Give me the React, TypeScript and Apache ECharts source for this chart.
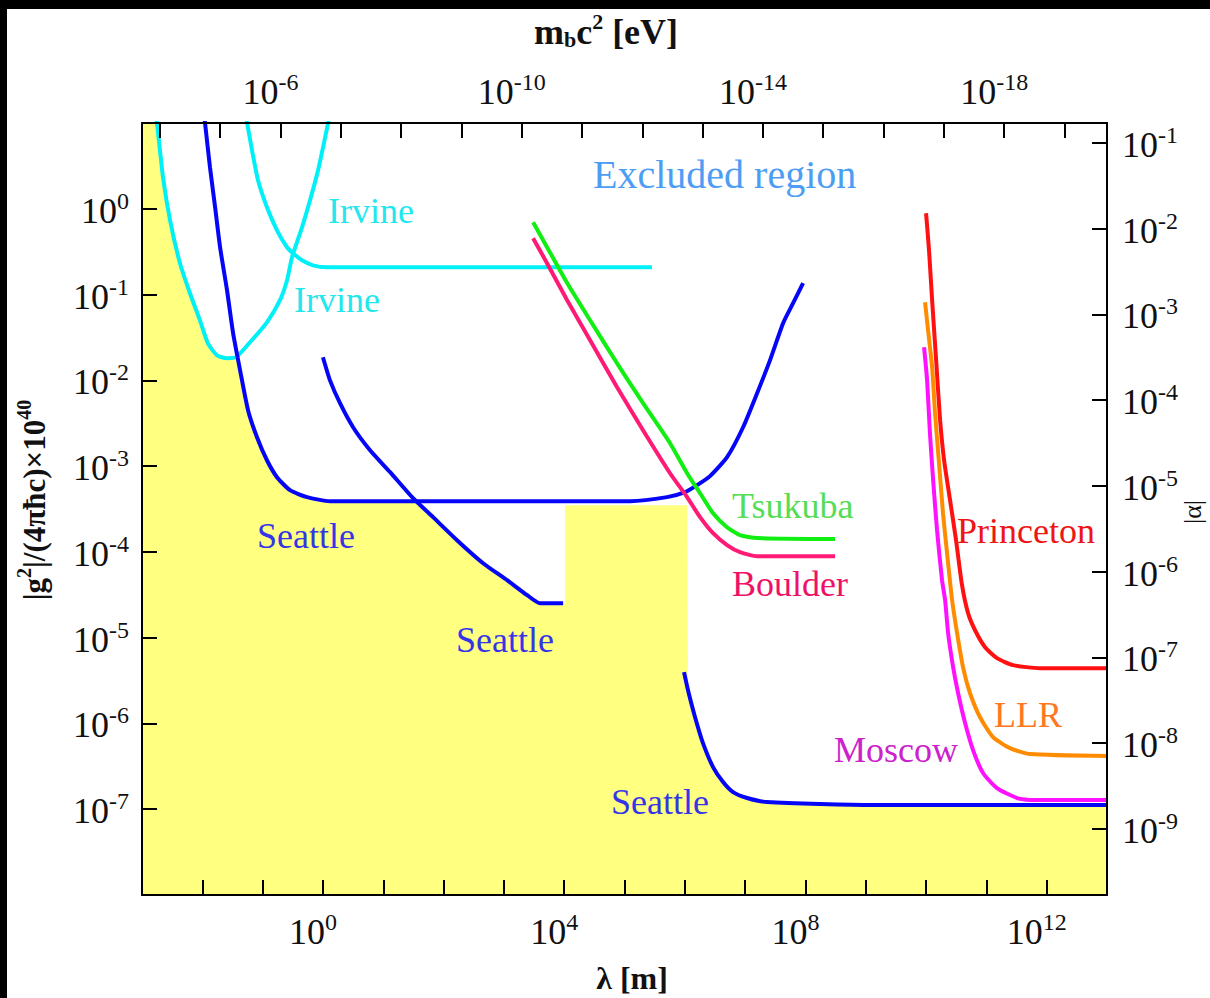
import React, { useEffect, useRef } from "react";
import * as echarts from "echarts";

type Pt = [number, number];

// ---- axis ranges ----
const LAMBDA_MIN = 1e-3;
const LAMBDA_MAX = 1e13;
const G_MIN = 1e-8;
const G_MAX = 10;
const HBARC_EV_M = 1.97e-7; // m_b c^2 [eV] = ħc / λ
const ALPHA_PER_G = 1.7e-2; // right axis |α| relative to left axis

const bottomLabelExps = [0, 4, 8, 12];
const topLabelExps = [-6, -10, -14, -18];

// ---- curves: [λ (m), |g²|/(4πħc)×10^40] ----
const irvineA: Pt[] = [
  [1.64e-3, 13.3], [1.77e-3, 10], [2.23e-3, 2.33], [2.92e-3, 0.734], [4.26e-3, 0.232],
  [6.24e-3, 0.1035], [9.14e-3, 0.0501], [1.24e-2, 0.027], [1.75e-2, 0.0196], [2.56e-2, 0.0181],
  [3.62e-2, 0.0186], [6.18e-2, 0.0278], [0.118, 0.0475], [0.194, 0.0859], [0.254, 0.147],
  [0.307, 0.272], [0.45, 0.608], [0.611, 1.256], [0.83, 2.81], [1.22, 10], [1.36, 14.2],
];
const irvineB: Pt[] = [
  [0.0492, 14.1], [0.0552, 10], [0.0667, 4.81], [0.0839, 2.15], [0.118, 1.04], [0.173, 0.561],
  [0.254, 0.356], [0.319, 0.303], [0.45, 0.251], [0.685, 0.219], [1.17, 0.208], [2.85e5, 0.208],
];
const seattleA: Pt[] = [
  [0.0103, 16.1], [0.0111, 10], [0.0134, 3.05], [0.0163, 1.04], [0.0197, 0.356], [0.0257, 0.112],
  [0.0324, 0.0354], [0.0423, 0.0131], [0.0573, 4.49e-3], [0.0807, 2.17e-3], [0.118, 1.17e-3],
  [0.173, 7.43e-4], [0.284, 5.24e-4], [0.545, 4.35e-4], [1.31, 3.9e-4], [128, 3.9e-4],
  [1.24e5, 3.9e-4], [5.08e5, 4.35e-4], [1.01e6, 4.97e-4], [1.6e6, 6.0e-4], [2.62e6, 7.64e-4],
  [5.01e6, 1.27e-3], [9.25e6, 2.84e-3], [1.58e7, 7.08e-3], [2.59e7, 0.0172], [4.26e7, 0.0463],
  [6.24e7, 0.0793], [9.14e7, 0.136],
];
const seattleB: Pt[] = [
  [1.0, 0.0186], [1.31, 0.01], [1.92, 5.41e-3], [3.16, 2.84e-3], [6.04, 1.53e-3], [13.0, 8.49e-4],
  [31.2, 4.23e-4], [67.0, 2.54e-4], [167, 1.37e-4], [452, 7.38e-5], [1130, 4.68e-5],
  [2430, 3.13e-5], [3980, 2.52e-5], [9600, 2.52e-5],
];
const seattleC: Pt[] = [
  [9.7e5, 3.96e-6], [1.13e6, 2.44e-6], [1.48e6, 1.18e-6], [2.0e6, 5.89e-7], [2.94e6, 3.1e-7],
  [4.31e6, 2.07e-7], [6.31e6, 1.58e-7], [1.08e7, 1.35e-7], [2.31e7, 1.21e-7], [1.32e9, 1.12e-7],
  [1e13, 1.12e-7],
];
const tsukuba: Pt[] = [
  [3050, 0.697], [5200, 0.356], [1.12e4, 0.136], [2.69e4, 0.0501], [7.53e4, 0.0158],
  [2.03e5, 5.41e-3], [5.69e5, 1.85e-3], [1.09e6, 8.26e-4], [1.79e6, 4.83e-4], [2.94e6, 2.82e-4],
  [5.01e6, 1.94e-4], [8.24e6, 1.57e-4], [1.58e7, 1.45e-4], [3.1e8, 1.41e-4],
];
const boulder: Pt[] = [
  [3050, 0.453], [5200, 0.232], [1.12e4, 0.0859], [2.69e4, 0.0293], [7.53e4, 8.32e-3],
  [2.03e5, 2.62e-3], [5.69e5, 8.26e-4], [1.09e6, 4.35e-4], [1.79e6, 2.54e-4], [2.94e6, 1.65e-4],
  [5.01e6, 1.2e-4], [8.24e6, 9.93e-5], [1.58e7, 8.91e-5], [3.1e8, 8.91e-5],
];
const princeton: Pt[] = [
  [1.0e10, 0.887], [1.12e10, 0.328], [1.26e10, 0.0859], [1.47e10, 0.0171], [1.71e10, 3.43e-3],
  [1.99e10, 1.17e-3], [2.5e10, 4.01e-4], [3.14e10, 1.37e-4], [3.95e10, 4.09e-5], [4.97e10, 1.93e-5],
  [6.49e10, 1.22e-5], [9.51e10, 7.74e-6], [1.5e11, 5.77e-6], [2.77e11, 4.78e-6], [7.76e11, 4.41e-6],
  [1e13, 4.41e-6],
];
const llr: Pt[] = [
  [9.62e9, 0.0813], [1.08e10, 0.0384], [1.26e10, 0.0142], [1.41e10, 4.14e-3], [1.64e10, 1.08e-3],
  [1.91e10, 2.82e-4], [2.32e10, 7.4e-5], [2.7e10, 2.74e-5], [3.27e10, 1.13e-5], [4.1e10, 4.53e-6],
  [5.36e10, 2.25e-6], [7.85e10, 1.18e-6], [1.29e11, 6.92e-7], [2.47e11, 5.15e-7], [5.3e11, 4.39e-7],
  [1e13, 4.16e-7],
];
const moscow: Pt[] = [
  [9.27e9, 0.0243], [1.04e10, 0.01], [1.16e10, 2.42e-3], [1.31e10, 6.85e-4], [1.52e10, 1.79e-4],
  [1.84e10, 4.68e-5], [2.07e10, 2.74e-5], [2.32e10, 1.13e-5], [2.81e10, 4.53e-6], [3.4e10, 2.25e-6],
  [4.44e10, 1.01e-6], [6.01e10, 4.89e-7], [8.81e10, 2.64e-7], [1.5e11, 1.76e-7], [3.23e11, 1.35e-7],
  [5.94e11, 1.28e-7], [1e13, 1.28e-7],
];
// boundary of the allowed (yellow) region
const allowedRegion: Pt[] = [
  [1e-3, 10], [1.77e-3, 10], [2.23e-3, 2.33], [2.92e-3, 0.734], [4.26e-3, 0.232], [6.24e-3, 0.1035],
  [9.14e-3, 0.0501], [1.24e-2, 0.027], [1.75e-2, 0.0196], [2.56e-2, 0.0181], [3.77e-2, 0.0186],
  [0.0423, 0.0131], [0.0573, 4.49e-3], [0.0807, 2.17e-3], [0.118, 1.17e-3], [0.173, 7.43e-4],
  [0.284, 5.24e-4], [0.545, 4.35e-4], [1.31, 3.9e-4], [33.7, 3.9e-4], [67.0, 2.54e-4], [167, 1.37e-4],
  [452, 7.38e-5], [1130, 4.68e-5], [2430, 3.13e-5], [3980, 2.52e-5], [1.03e4, 2.52e-5],
  [1.03e4, 3.5e-4], [1.09e6, 3.5e-4], [1.13e6, 2.44e-6], [1.48e6, 1.18e-6], [2.0e6, 5.89e-7],
  [2.94e6, 3.1e-7], [4.31e6, 2.07e-7], [6.31e6, 1.58e-7], [1.08e7, 1.35e-7], [2.31e7, 1.21e-7],
  [1.32e9, 1.12e-7], [1e13, 1.12e-7], [1e13, 1e-8], [1e-3, 1e-8],
];

const SERIF = '"Liberation Serif", "Times New Roman", serif';
const YELLOW = "#ffff80";

const tickRich = {
  b: { fontFamily: SERIF, fontSize: 36, color: "#111", lineHeight: 40, verticalAlign: "bottom" },
  s: { fontFamily: SERIF, fontSize: 24, color: "#111", lineHeight: 34, verticalAlign: "top" },
};

const expOf = (v: number) => {
  const e = Math.log10(v);
  const r = Math.round(e);
  return Math.abs(e - r) < 1e-6 ? r : null;
};

const axisBase = {
  axisLine: { show: true, onZero: false, lineStyle: { color: "#000", width: 2 } },
  axisTick: { show: true, inside: true, length: 15, lineStyle: { color: "#000", width: 2 } },
  splitLine: { show: false },
  minorTick: { show: false },
  minorSplitLine: { show: false },
  z: 5,
};

const txt = (text: string, x: number, y: number, fill: string, size = 36) => ({
  type: "text",
  x,
  y,
  z: 50,
  style: {
    text,
    fill,
    font: `${size}px ${SERIF}`,
    align: "left",
    verticalAlign: "middle",
    textAlign: "left",
    textVerticalAlign: "middle",
  },
});

export default function App() {
  const ref = useRef<HTMLDivElement>(null);
  useEffect(() => {
    if (!ref.current) return;
    const chart = echarts.init(ref.current, undefined, { renderer: "svg" });
    const line = (name: string, data: Pt[], color: string) => ({
      type: "line",
      name,
      data,
      xAxisIndex: 0,
      yAxisIndex: 0,
      showSymbol: false,
      symbol: "none",
      silent: true,
      clip: true,
      smooth: 0.2,
      z: 3,
      lineStyle: { color, width: 4 },
      itemStyle: { color },
    });
    const topMin = Math.log10(HBARC_EV_M / LAMBDA_MAX);
    const topMax = Math.log10(HBARC_EV_M / LAMBDA_MIN);
    chart.setOption({
      animation: false,
      backgroundColor: "#fff",
      grid: { left: 142, top: 123, width: 965, height: 772, containLabel: false },
      xAxis: [
        {
          ...axisBase,
          type: "log",
          logBase: 10,
          min: LAMBDA_MIN,
          max: LAMBDA_MAX,
          interval: 1,
          position: "bottom",
          axisLabel: {
            margin: 15,
            padding: [0, 20, 0, 0],
            rich: tickRich,
            formatter: (v: number) => {
              const e = expOf(v);
              return e !== null && bottomLabelExps.includes(e) ? `{b|10}{s|${e}}` : "";
            },
          },
        },
        {
          ...axisBase,
          type: "value",
          min: topMin,
          max: topMax,
          inverse: true,
          splitNumber: 16,
          position: "top",
          axisLabel: {
            margin: 13,
            padding: [0, 20, 0, 0],
            rich: tickRich,
            formatter: (v: number) => {
              const r = Math.round(v);
              return Math.abs(v - r) < 1e-6 && topLabelExps.includes(r) ? `{b|10}{s|${r}}` : "";
            },
          },
        },
      ],
      yAxis: [
        {
          ...axisBase,
          type: "log",
          logBase: 10,
          min: G_MIN,
          max: G_MAX,
          interval: 1,
          position: "left",
          axisLabel: {
            margin: 13,
            rich: tickRich,
            formatter: (v: number) => {
              const e = expOf(v);
              return e !== null && e > -8 && e < 1 ? `{b|10}{s|${e}}` : "";
            },
          },
        },
        {
          ...axisBase,
          type: "log",
          logBase: 10,
          min: G_MIN * ALPHA_PER_G,
          max: G_MAX * ALPHA_PER_G,
          position: "right",
          axisLabel: {
            margin: 15,
            rich: tickRich,
            formatter: (v: number) => {
              const e = expOf(v);
              return e !== null ? `{b|10}{s|${e}}` : "";
            },
          },
        },
      ],
      series: [
        {
          type: "custom",
          name: "allowed",
          xAxisIndex: 0,
          yAxisIndex: 0,
          data: allowedRegion,
          z: 1,
          silent: true,
          renderItem: (params: any, api: any) => {
            if (params.dataIndex !== 0) return null;
            const points = allowedRegion.map((p) => api.coord(p));
            return { type: "polygon", shape: { points }, style: { fill: YELLOW } };
          },
        },
        line("Irvine A", irvineA, "#00f0f8"),
        line("Irvine B", irvineB, "#00f0f8"),
        line("Seattle A", seattleA, "#0505f8"),
        line("Seattle B", seattleB, "#0505f8"),
        line("Seattle C", seattleC, "#0505f8"),
        line("Boulder", boulder, "#ff1a75"),
        line("Tsukuba", tsukuba, "#11ee11"),
        line("Moscow", moscow, "#ff11ff"),
        line("LLR", llr, "#ff8c00"),
        line("Princeton", princeton, "#ff1111"),
      ],
      graphic: [
        { type: "rect", z: 100, shape: { x: 0, y: 0, width: 1210, height: 9 }, style: { fill: "#000" } },
        { type: "rect", z: 100, shape: { x: 0, y: 0, width: 7, height: 998 }, style: { fill: "#000" } },
        {
          type: "text",
          x: 606,
          y: 30,
          z: 50,
          style: {
            text: "{a|m}{sb|b}{a|c}{sp|2}{a| [eV]}",
            align: "center",
            verticalAlign: "middle",
            textAlign: "center",
            textVerticalAlign: "middle",
            rich: {
              a: { fontFamily: SERIF, fontWeight: "bold", fontSize: 36, lineHeight: 40, verticalAlign: "bottom", fill: "#111", color: "#111" },
              sb: { fontFamily: SERIF, fontWeight: "bold", fontSize: 22, lineHeight: 12, verticalAlign: "bottom", fill: "#111", color: "#111" },
              sp: { fontFamily: SERIF, fontWeight: "bold", fontSize: 22, lineHeight: 26, verticalAlign: "top", fill: "#111", color: "#111" },
            },
          },
        },
        {
          type: "text",
          x: 632,
          y: 978,
          z: 50,
          style: {
            text: "λ [m]",
            fill: "#111",
            font: `bold 32px ${SERIF}`,
            align: "center",
            verticalAlign: "middle",
            textAlign: "center",
            textVerticalAlign: "middle",
          },
        },
        {
          type: "text",
          x: 32,
          y: 500,
          z: 50,
          rotation: Math.PI / 2,
          style: {
            text: "{a||g}{p|2}{a||/(4πħc)×10}{p|40}",
            align: "center",
            verticalAlign: "middle",
            textAlign: "center",
            textVerticalAlign: "middle",
            rich: {
              a: { fontFamily: SERIF, fontWeight: "bold", fontSize: 31, lineHeight: 36, verticalAlign: "bottom", fill: "#111", color: "#111" },
              p: { fontFamily: SERIF, fontWeight: "bold", fontSize: 20, lineHeight: 26, verticalAlign: "top", fill: "#111", color: "#111" },
            },
          },
        },
        {
          type: "text",
          x: 1192,
          y: 512,
          z: 50,
          rotation: Math.PI / 2,
          style: {
            text: "|α|",
            fill: "#111",
            font: `26px ${SERIF}`,
            align: "center",
            verticalAlign: "middle",
            textAlign: "center",
            textVerticalAlign: "middle",
          },
        },
        txt("Excluded region", 593, 174, "#4d9df5", 40),
        txt("Irvine", 328, 211, "#22e8ee"),
        txt("Irvine", 294, 300, "#22e8ee"),
        txt("Seattle", 257, 536, "#3535e8"),
        txt("Seattle", 456, 640, "#3535e8"),
        txt("Seattle", 611, 802, "#3535e8"),
        txt("Tsukuba", 732, 506, "#55dd55"),
        txt("Boulder", 732, 584, "#ee1166"),
        txt("Princeton", 957, 531, "#ee1515"),
        txt("LLR", 994, 715, "#ff7722"),
        txt("Moscow", 834, 750, "#cc22cc"),
      ],
    });
    return () => chart.dispose();
  }, []);
  return (
    <div
      ref={ref}
      style={{ position: "fixed", left: 0, top: 0, width: 1210, height: 998, background: "#fff" }}
    />
  );
}
